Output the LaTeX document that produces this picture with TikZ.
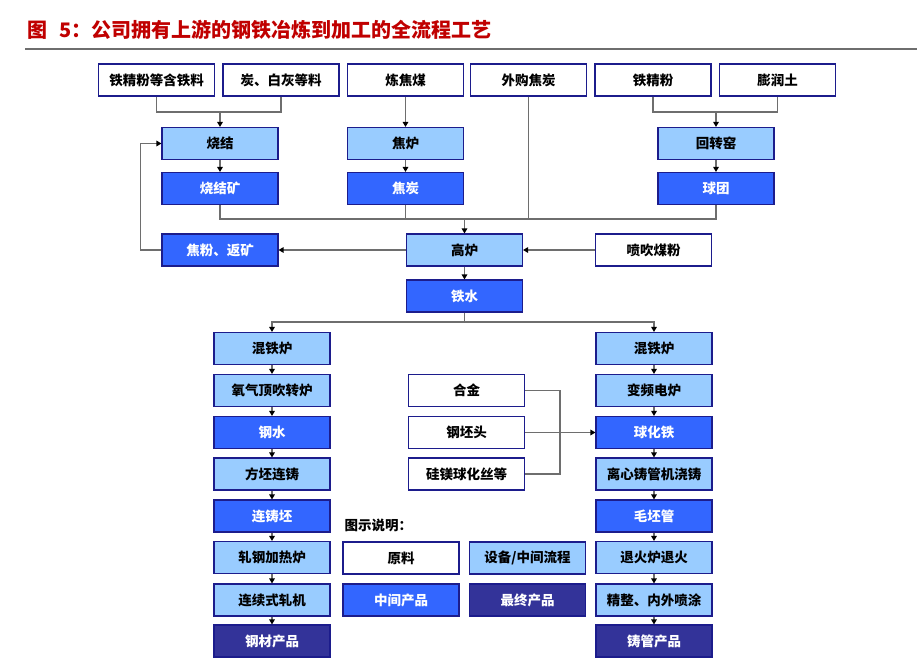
\documentclass[tikz,border=0pt]{standalone}
\usepackage{fontspec}
\setmainfont{Noto Sans CJK SC}
\usetikzlibrary{arrows.meta}

\definecolor{lightbox}{RGB}{153,204,255}
\definecolor{midbox}{RGB}{51,102,255}
\definecolor{darkbox}{RGB}{51,51,153}
\definecolor{edgeblue}{RGB}{28,28,140}
\definecolor{titlered}{RGB}{192,0,0}
\definecolor{linegray}{RGB}{110,110,110}

\tikzset{
    box/.style={draw=edgeblue, line width=1.1pt, minimum width=116pt, minimum height=32pt,
        inner sep=0pt, font=\fontsize{13.5}{15}\selectfont\bfseries},
    rawbox/.style={box, fill=white},
    equipbox/.style={box, fill=lightbox},
    midproduct/.style={box, fill=midbox, text=white},
    finalproduct/.style={box, fill=darkbox, text=white},
    gline/.style={draw=linegray, line width=1.2pt},
    garrow/.style={gline, -{Triangle[length=5pt,width=5.5pt,color=black]}}
}

\begin{document}
\begin{tikzpicture}[x=1pt, y=-1pt]
    \useasboundingbox (0,0) rectangle (924,659);

    \node[anchor=west, text=titlered, font=\fontsize{20}{22}\selectfont\bfseries] (title) at (24,30) {图\hspace{0.6em}5：公司拥有上游的钢铁冶炼到加工的全流程工艺};
    \draw[linegray, line width=1.3pt] (25,49) -- (917,49);

    \node[rawbox] (ironfeed) at (156.5,80) {铁精粉等含铁料};
    \node[rawbox] (lime) at (281,80) {炭、白灰等料};
    \node[rawbox] (cokecoal) at (405.5,80) {炼焦煤};
    \node[rawbox] (buycoke) at (528.5,80) {外购焦炭};
    \node[rawbox] (ironpowder) at (653,80) {铁精粉};
    \node[rawbox] (clay) at (777.5,80) {膨润土};

    \node[equipbox] (sinter) at (220,143.5) {烧结};
    \node[equipbox] (cokeoven) at (405.5,143.5) {焦炉};
    \node[equipbox] (kiln) at (716,143.5) {回转窑};

    \node[midproduct] (sinterore) at (220,188.5) {烧结矿};
    \node[midproduct] (coke) at (405.5,188.5) {焦炭};
    \node[midproduct] (pellet) at (716,188.5) {球团};

    \node[midproduct] (returnfines) at (220,250) {焦粉、返矿};
    \node[equipbox] (blastfurnace) at (464.5,250) {高炉};
    \node[rawbox] (pci) at (653.5,250) {喷吹煤粉};

    \node[midproduct] (hotmetal) at (464.5,296) {铁水};

    \node[equipbox] (mixerL) at (272,348.5) {混铁炉};
    \node[equipbox] (converter) at (272,390.5) {氧气顶吹转炉};
    \node[midproduct] (moltensteel) at (272,432.5) {钢水};
    \node[equipbox] (billetcast) at (272,474) {方坯连铸};
    \node[midproduct] (billet) at (272,516) {连铸坯};
    \node[equipbox] (reheat) at (272,557.5) {轧钢加热炉};
    \node[equipbox] (rollmill) at (272,600) {连续式轧机};
    \node[finalproduct] (steelprod) at (272,641) {钢材产品};

    \node[equipbox] (mixerR) at (654,348.5) {混铁炉};
    \node[equipbox] (inductfurnace) at (654,390.5) {变频电炉};
    \node[midproduct] (ductileiron) at (654,432.5) {球化铁};
    \node[equipbox] (centrifugal) at (654,474) {离心铸管机浇铸};
    \node[midproduct] (roughpipe) at (654,516) {毛坯管};
    \node[equipbox] (anneal) at (654,557.5) {退火炉退火};
    \node[equipbox] (finish) at (654,600) {精整、内外喷涂};
    \node[finalproduct] (pipeprod) at (654,641) {铸管产品};

    \node[rawbox] (alloy) at (466.5,390.5) {合金};
    \node[rawbox] (billethead) at (466.5,432.5) {钢坯头};
    \node[rawbox] (sphwire) at (466.5,474) {硅镁球化丝等};

    \node[anchor=west, font=\fontsize{13.5}{15}\selectfont\bfseries] (legendtitle) at (341,525) {图示说明：};
    \node[rawbox] (legraw) at (401,558) {原料};
    \node[equipbox] (legequip) at (527.5,558) {设备/中间流程};
    \node[midproduct] (legmid) at (401,600) {中间产品};
    \node[finalproduct] (legfinal) at (527.5,600) {最终产品};

    \coordinate (sintermerge) at (220,112);
    \coordinate (kilnmerge) at (716,112);
    \coordinate (bfmerge) at (464.5,219);
    \coordinate (hmsplit) at (464.5,322);
    \coordinate (alloymerge) at (560,432.5);

    \draw[gline] (ironfeed.south) |- (sintermerge) -| (lime.south);
    \draw[garrow] (sintermerge) -- (sinter.north);
    \draw[gline] (ironpowder.south) |- (kilnmerge) -| (clay.south);
    \draw[garrow] (kilnmerge) -- (kiln.north);
    \draw[garrow] (cokecoal) -- (cokeoven);
    \draw[garrow] (sinter) -- (sinterore);
    \draw[garrow] (cokeoven) -- (coke);
    \draw[garrow] (kiln) -- (pellet);

    \draw[gline] (sinterore.south) |- (bfmerge) -| (pellet.south);
    \draw[gline] (coke.south) -- (coke.south |- bfmerge);
    \draw[gline] (buycoke.south) -- (buycoke.south |- bfmerge);
    \draw[garrow] (bfmerge) -- (blastfurnace.north);

    \draw[garrow] (blastfurnace) -- (returnfines);
    \draw[garrow] (pci) -- (blastfurnace);
    \draw[garrow] (returnfines.west) -- ++(-21,0) |- (sinter.west);
    \draw[garrow] (blastfurnace) -- (hotmetal);

    \draw[gline] (hotmetal.south) -- (hmsplit);
    \draw[garrow] (hmsplit) -| (mixerL.north);
    \draw[garrow] (hmsplit) -| (mixerR.north);

    \draw[garrow] (mixerL) -- (converter);
    \draw[garrow] (converter) -- (moltensteel);
    \draw[garrow] (moltensteel) -- (billetcast);
    \draw[garrow] (billetcast) -- (billet);
    \draw[garrow] (billet) -- (reheat);
    \draw[garrow] (reheat) -- (rollmill);
    \draw[garrow] (rollmill) -- (steelprod);

    \draw[garrow] (mixerR) -- (inductfurnace);
    \draw[garrow] (inductfurnace) -- (ductileiron);
    \draw[garrow] (ductileiron) -- (centrifugal);
    \draw[garrow] (centrifugal) -- (roughpipe);
    \draw[garrow] (roughpipe) -- (anneal);
    \draw[garrow] (anneal) -- (finish);
    \draw[garrow] (finish) -- (pipeprod);

    \draw[gline] (alloy.east) -| (alloymerge) |- (sphwire.east);
    \draw[garrow] (billethead) -- (ductileiron);
\end{tikzpicture}
\end{document}
